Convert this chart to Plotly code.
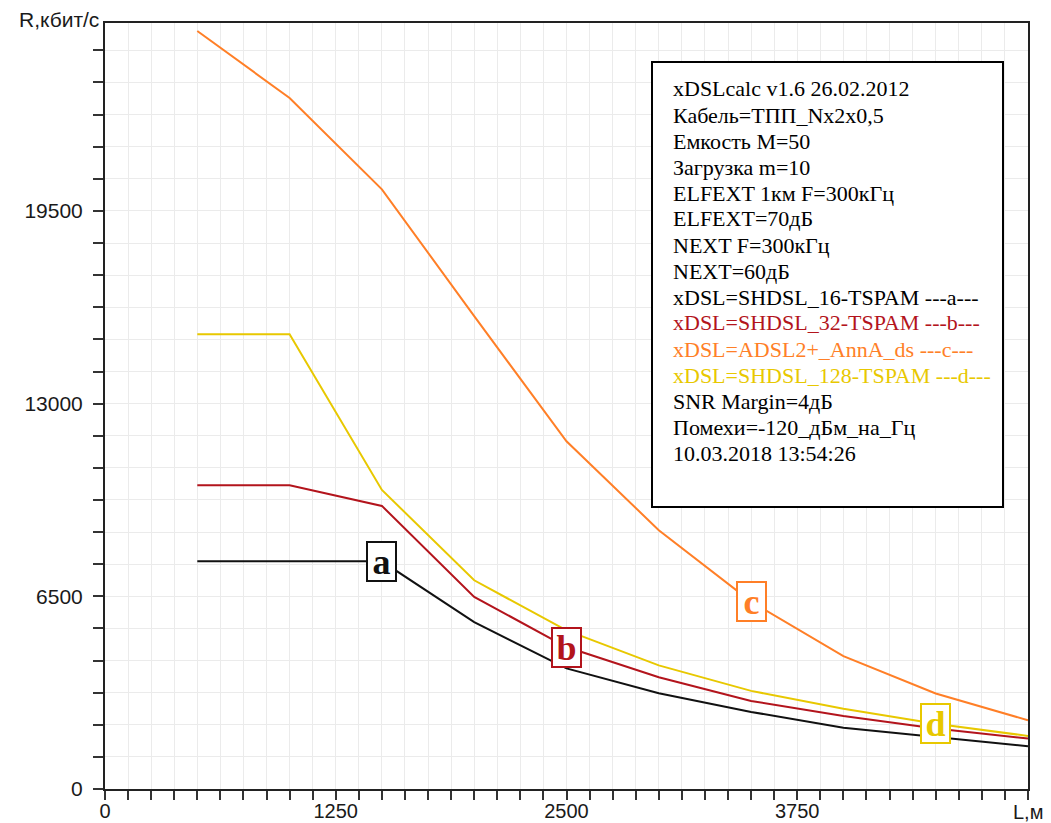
import plotly.graph_objects as go

# ---- data ----
L_m = [500, 1000, 1500, 2000, 2500, 3000, 3500, 4000, 4500, 5000]
R_a = [7680, 7680, 7680, 5630, 4070, 3230, 2600, 2070, 1750, 1440]      # SHDSL_16-TSPAM
R_b = [10250, 10250, 9550, 6480, 4790, 3770, 2970, 2460, 2040, 1700]    # SHDSL_32-TSPAM
R_c = [25570, 23310, 20230, 15950, 11730, 8730, 6320, 4480, 3220, 2320] # ADSL2+_AnnA_ds
R_d = [15340, 15340, 10090, 7040, 5350, 4170, 3310, 2710, 2200, 1790]   # SHDSL_128-TSPAM

series_names = ["a", "b", "c", "d"]
series_vals = [R_a, R_b, R_c, R_d]
series_colors = ["#111111", "#B3141C", "#FF7F27", "#E8C800"]
label_idx = [2, 4, 6, 8]   # point where the letter marker sits

x_ticks = [0, 1250, 2500, 3750]
y_ticks = [0, 6500, 13000, 19500]

info_lines = [
    ("xDSLcalc v1.6 26.02.2012", "#000000"),
    ("Кабель=ТПП_Nx2x0,5", "#000000"),
    ("Емкость M=50", "#000000"),
    ("Загрузка m=10", "#000000"),
    ("ELFEXT 1км F=300кГц", "#000000"),
    ("ELFEXT=70дБ", "#000000"),
    ("NEXT F=300кГц", "#000000"),
    ("NEXT=60дБ", "#000000"),
    ("xDSL=SHDSL_16-TSPAM ---a---", "#000000"),
    ("xDSL=SHDSL_32-TSPAM ---b---", "#B3141C"),
    ("xDSL=ADSL2+_AnnA_ds ---c---", "#FF7F27"),
    ("xDSL=SHDSL_128-TSPAM ---d---", "#E8C800"),
    ("SNR Margin=4дБ", "#000000"),
    ("Помехи=-120_дБм_на_Гц", "#000000"),
    ("10.03.2018 13:54:26", "#000000"),
]

fig = go.Figure()
for name, vals, col in zip(series_names, series_vals, series_colors):
    fig.add_trace(go.Scatter(x=L_m, y=vals, mode="lines", name=name,
                             line=dict(color=col, width=2), showlegend=False))

# letter markers
for name, vals, col, i in zip(series_names, series_vals, series_colors, label_idx):
    fig.add_annotation(x=L_m[i], y=vals[i], text="<b>%s</b>" % name, showarrow=False,
                       font=dict(family="Liberation Serif", size=36, color=col),
                       bgcolor="white", bordercolor=col, borderwidth=2, borderpad=0,
                       width=27, height=37, xanchor="center", yanchor="middle")

# info box
W, H = 1051, 823
ml, mr, mt, mb = 105, 23, 23, 34
pw, ph = W - ml - mr, H - mt - mb

def px_x(p):
    return (p - ml) / pw

def px_y(p):
    return (H - mb - p) / ph

fig.add_shape(type="rect", xref="paper", yref="paper",
              x0=px_x(652), x1=px_x(1003), y0=px_y(507), y1=px_y(62),
              line=dict(color="black", width=2), fillcolor="white", layer="above")
for k, (txt, col) in enumerate(info_lines):
    fig.add_annotation(xref="paper", yref="paper", x=px_x(671), y=px_y(89 + 26 * k),
                       xanchor="left", yanchor="middle", showarrow=False, text=txt,
                       font=dict(family="Liberation Serif", size=22, color=col))

# axis titles
fig.add_annotation(xref="paper", yref="paper", x=0, y=1, xanchor="right", yanchor="middle",
                   xshift=-4, yshift=4, showarrow=False, text="R,кбит/с",
                   font=dict(family="Liberation Sans", size=21, color="#1a1a1a"))
fig.add_annotation(xref="paper", yref="paper", x=1, y=0, xanchor="center", yanchor="top",
                   yshift=-10, showarrow=False, text="L,м",
                   font=dict(family="Liberation Sans", size=20, color="#1a1a1a"))

axis_common = dict(showline=True, linecolor="#222222", linewidth=2, mirror=True,
                   ticks="outside", tickcolor="#333333", tickwidth=1.5, automargin=False,
                   showgrid=True, gridcolor="#EBEBEB", gridwidth=1, zeroline=False,
                   tickformat="d")

fig.update_xaxes(range=[0, 5000], tickmode="array", tickvals=x_ticks,
                 ticklen=9, ticklabelstandoff=-6,
                 tickfont=dict(family="Liberation Sans", size=20, color="#1a1a1a"),
                 minor=dict(tickmode="linear", tick0=0, dtick=125, ticklen=9,
                            tickcolor="#333333", tickwidth=1.5, showgrid=True,
                            gridcolor="#EBEBEB", gridwidth=1),
                 **axis_common)
fig.update_yaxes(range=[0, 25840], tickmode="array", tickvals=y_ticks,
                 ticklen=10, ticklabelstandoff=6,
                 tickfont=dict(family="Liberation Sans", size=21, color="#1a1a1a"),
                 minor=dict(tickmode="linear", tick0=0, dtick=6500 / 6, ticklen=10,
                            tickcolor="#333333", tickwidth=1.5, showgrid=True,
                            gridcolor="#EBEBEB", gridwidth=1),
                 **axis_common)

fig.update_layout(width=W, height=H, margin=dict(l=ml, r=mr, t=mt, b=mb, autoexpand=False),
                  plot_bgcolor="white", paper_bgcolor="white")

fig.write_html("out.html", config={"displayModeBar": False},
               post_script="document.body.style.margin='0';")
